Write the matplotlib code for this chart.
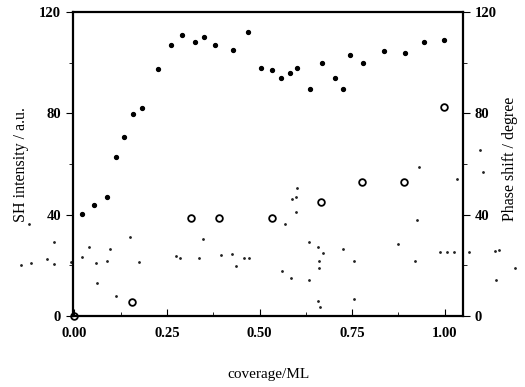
import matplotlib.pyplot as plt
from matplotlib.ticker import MultipleLocator

# ===== Datos =====
# SH intensity (puntos rellenos)
sh_cov = [0.02, 0.053, 0.088, 0.112, 0.134, 0.158, 0.182, 0.226, 0.26, 0.291,
          0.326, 0.35, 0.38, 0.428, 0.469, 0.504, 0.534, 0.558, 0.582, 0.601,
          0.636, 0.669, 0.704, 0.726, 0.744, 0.779, 0.836, 0.893, 0.945, 0.999]
sh_int = [40.5, 44, 47, 62.8, 70.7, 79.9, 82, 97.5, 107, 111,
          108, 110, 107, 105, 112, 98, 97, 94, 96, 98,
          89.6, 100, 94, 89.6, 103, 100, 104.6, 104, 108, 109]

# Phase shift (círculos abiertos)
ph_cov = [0.0, 0.156, 0.314, 0.39, 0.534, 0.666, 0.777, 0.89, 0.999]
ph_deg = [0.0, 5.5, 38.7, 38.7, 38.7, 45, 53, 53, 82.5]

# Manchas del escaneo (ruido de fondo)
noise_x = [-0.123, -0.145, -0.118, -0.074, -0.055, -0.055, -0.009, 0.020, 0.039, 0.058,
           0.061, 0.088, 0.096, 0.112, 0.150, 0.174, 0.274, 0.285, 0.336, 0.347,
           0.396, 0.426, 0.436, 0.458, 0.472, 0.588, 0.599, 0.599, 0.569, 0.561,
           0.585, 0.634, 0.634, 0.658, 0.672, 0.661, 0.661, 0.658, 0.664, 0.726,
           0.755, 0.755, 0.874, 0.926, 0.920, 0.988, 1.007, 1.026, 1.066, 1.136,
           1.147, 1.139, 1.191, 1.096, 1.104, 0.931, 1.034, 0.601]
noise_y = [36.3, 20.1, 20.9, 22.5, 29.2, 20.5, 21.3, 23.3, 27.2, 20.9,
           13.0, 21.7, 26.5, 7.9, 31.2, 21.3, 23.7, 22.9, 22.9, 30.4,
           24.1, 24.5, 19.7, 22.9, 22.9, 46.2, 47.0, 41.1, 36.3, 17.8,
           15.0, 29.2, 14.2, 27.2, 24.9, 21.7, 19.0, 5.9, 3.6, 26.5,
           21.7, 6.7, 28.4, 37.9, 21.7, 25.3, 25.3, 25.3, 25.3, 25.7,
           26.1, 14.2, 19.0, 65.5, 56.8, 58.8, 54.1, 50.5]

xticks = [0, 0.25, 0.5, 0.75, 1.0]
xtick_labels = ['0.00', '0.25', '0.50', '0.75', '1.00']
yticks = [0, 40, 80, 120]

# ===== Figura =====
plt.rcParams['font.family'] = ['Liberation Serif', 'DejaVu Serif']
fig = plt.figure(figsize=(5.25, 3.87), dpi=100)
ax = fig.add_axes([0.139, 0.183, 0.743, 0.786])

ax.scatter(noise_x, noise_y, s=1.0, color='#222222', clip_on=False, zorder=1)
ax.plot(sh_cov, sh_int, 'o', color='black', markersize=2.8, zorder=3)
ax.plot(ph_cov, ph_deg, 'o', mfc='none', mec='black', mew=1.3,
        markersize=4.8, clip_on=False, zorder=3)

ax.set_xlim(-0.004, 1.05)
ax.set_ylim(0, 120)
ax.set_xticks(xticks)
ax.set_xticklabels(xtick_labels)
ax.xaxis.set_minor_locator(MultipleLocator(0.125))
ax.set_yticks(yticks)
ax.yaxis.set_minor_locator(MultipleLocator(20))

ax.tick_params(axis='x', which='both', direction='in', top=False, labelsize=10.5, pad=8)
ax.tick_params(axis='x', which='major', length=5)
ax.tick_params(axis='x', which='minor', length=3)
ax.tick_params(axis='y', which='both', direction='out', left=True, right=True,
               labelleft=True, labelright=True, labelsize=10.5)
ax.tick_params(axis='y', which='major', length=5)
ax.tick_params(axis='y', which='minor', length=3)
for lab in ax.get_xticklabels() + ax.get_yticklabels():
    lab.set_fontweight('bold')
for t in ax.yaxis.get_major_ticks():
    t.label2.set_fontweight('bold')

for sp in ax.spines.values():
    sp.set_linewidth(1.6)

ax.set_xlabel('coverage/ML', fontsize=11)
ax.xaxis.set_label_coords(0.5, -0.172)
ax.set_ylabel('SH intensity / a.u.', fontsize=11.5)
ax.yaxis.set_label_coords(-0.112, 0.5)
fig.text(0.972, 0.59, 'Phase shift / degree', rotation=90, fontsize=11.5,
         ha='center', va='center')

fig.savefig('out.png', dpi=100)
